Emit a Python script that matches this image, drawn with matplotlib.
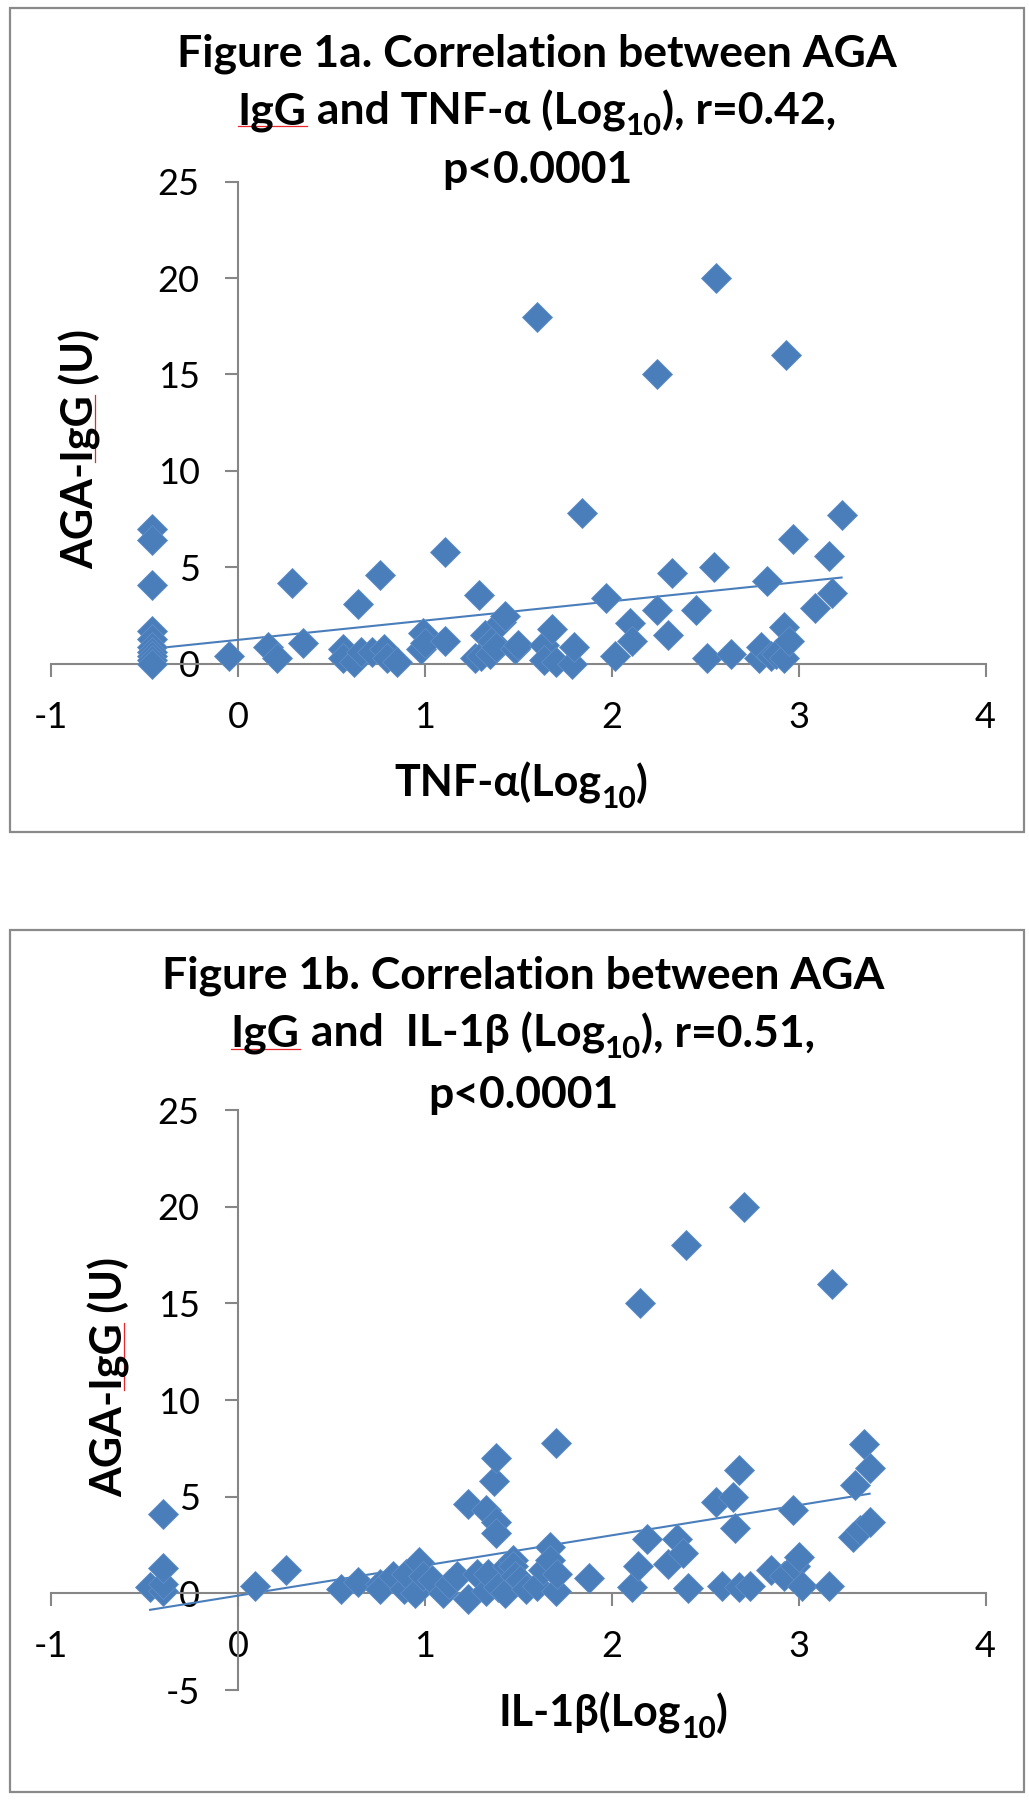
import numpy as np
import matplotlib
matplotlib.use("Agg")
import matplotlib.pyplot as plt
from matplotlib.patches import Rectangle
from matplotlib.lines import Line2D

plt.rcParams['font.family'] = ['Lato', 'DejaVu Sans']
plt.rcParams['axes.unicode_minus'] = False

W, H = 1029, 1800
BLUE = '#4A7EBB'
GREY = '#868686'

# ---- data ----
# Figure 1a: TNF-alpha (log10) vs AGA-IgG
tnf_x = [-0.46, -0.46, -0.46, -0.46, -0.46, -0.46, -0.46, -0.46, -0.46, -0.46,
         -0.05, 0.16, 0.21, 0.29, 0.35,
         0.56, 0.56, 0.62, 0.64, 0.66, 0.72, 0.76, 0.78, 0.80, 0.85,
         0.98, 0.99, 1.00, 1.11, 1.11,
         1.27, 1.29, 1.30, 1.32, 1.35, 1.36, 1.38, 1.41, 1.43, 1.48, 1.50,
         1.60, 1.64, 1.64, 1.68, 1.70, 1.79, 1.80, 1.84,
         1.97, 2.02, 2.10, 2.11,
         2.24, 2.24, 2.30, 2.32, 2.45,
         2.51, 2.55, 2.56, 2.64,
         2.79, 2.80, 2.83, 2.85, 2.88, 2.92, 2.92, 2.93, 2.95, 2.97,
         3.09, 3.16, 3.18, 3.23]
tnf_y = [7.0, 6.4, 4.1, 1.7, 1.3, 0.9, 0.6, 0.4, 0.2, 0.0,
         0.4, 0.9, 0.3, 4.2, 1.1,
         0.8, 0.3, 0.1, 3.1, 0.6, 0.6, 4.6, 0.8, 0.3, 0.1,
         0.8, 1.6, 1.1, 1.2, 5.8,
         0.3, 3.6, 0.4, 1.5, 0.5, 1.2, 0.9, 2.2, 2.5, 0.8, 1.0,
         18.0, 1.0, 0.2, 1.8, 0.1, 0.0, 0.9, 7.8,
         3.4, 0.4, 2.1, 1.2,
         15.0, 2.8, 1.5, 4.7, 2.8,
         0.3, 5.0, 20.0, 0.5,
         0.3, 0.9, 4.3, 0.4, 0.5, 1.9, 0.3, 16.0, 1.2, 6.5,
         2.9, 5.6, 3.7, 7.7]
tnf_trend = (1.0, 1.25)      # slope, intercept

# Figure 1b: IL-1beta (log10) vs AGA-IgG
il1b_x = [-0.47, -0.40, -0.40, -0.40, -0.40,
          0.09, 0.26,
          0.55, 0.64, 0.76, 0.76, 0.83, 0.89, 0.90, 0.95, 0.97, 0.99, 1.04,
          1.10, 1.13, 1.17, 1.23, 1.23, 1.28, 1.33, 1.33, 1.34, 1.37, 1.38, 1.38, 1.38, 1.39,
          1.43, 1.44, 1.47, 1.47, 1.48, 1.51, 1.54, 1.60, 1.63, 1.67, 1.67, 1.70, 1.71, 1.70,
          1.88,
          2.11, 2.14, 2.15, 2.19, 2.30, 2.35, 2.38, 2.40, 2.41,
          2.56, 2.59, 2.65, 2.66, 2.68, 2.68, 2.71, 2.74,
          2.85, 2.92, 2.97, 2.98, 3.00, 3.02, 3.16, 3.18,
          3.29, 3.30, 3.33, 3.35, 3.38, 3.38]
il1b_y = [0.35, 0.1, 0.5, 1.3, 4.1,
          0.4, 1.2,
          0.2, 0.6, 0.5, 0.2, 0.9, 0.2, 1.0, 0.0, 1.6, 0.9, 0.7,
          0.0, 0.5, 0.9, -0.3, 4.6, 1.0, 0.1, 4.3, 1.0, 5.8, 7.0, 3.7, 3.1, 0.35,
          0.0, 1.4, 1.7, 1.4, 0.9, 0.7, 0.2, 0.4, 1.2, 2.4, 1.7, 0.1, 1.0, 7.8,
          0.8,
          0.35, 1.4, 15.0, 2.8, 1.5, 2.8, 2.1, 18.0, 0.3,
          4.7, 0.4, 5.0, 3.4, 6.4, 0.35, 20.0, 0.4,
          1.2, 0.9, 4.3, 1.4, 1.9, 0.4, 0.4, 16.0,
          2.9, 5.6, 3.3, 7.7, 6.5, 3.7]
il1b_trend = (1.56, -0.12)   # slope, intercept

x_ticks = [-1, 0, 1, 2, 3, 4]
y_ticks_a = [0, 5, 10, 15, 20, 25]
y_ticks_b = [-5, 0, 5, 10, 15, 20, 25]

fig = plt.figure(figsize=(W / 100, H / 100), dpi=100)
renderer = fig.canvas.get_renderer()


def fx(px):
    return px / W


def fy(py):
    return 1 - py / H


def text_width(s, size, weight='bold'):
    t = fig.text(0, 0, s, fontsize=size, fontweight=weight)
    w = t.get_window_extent(renderer).width
    t.remove()
    return w


def rich_line(parts, xc, yb, size):
    # parts: (text, is_subscript, red_underline)
    arts = []
    for s, sub, und in parts:
        t = fig.text(0, 0, s, fontsize=size * 0.7 if sub else size,
                     fontweight='bold', ha='left', va='baseline')
        arts.append((t, sub, und))
    widths = [a[0].get_window_extent(renderer).width for a in arts]
    x = xc - sum(widths) / 2
    drop = 0.25 * size * 100 / 72
    for (t, sub, und), w in zip(arts, widths):
        y = yb + (drop if sub else 0)
        t.set_position((fx(x), fy(y)))
        if und:
            fig.add_artist(Line2D([fx(x), fx(x + w)], [fy(yb + 2), fy(yb + 2)],
                                  color='#E8262B', lw=0.9))
        x += w


def y_label(xc, yc, size):
    fig.text(fx(xc), fy(yc), 'AGA-IgG (U)', fontsize=size, fontweight='bold',
             rotation=90, ha='center', va='center')
    total = text_width('AGA-IgG (U)', size)
    start = yc + total / 2
    y0 = start - text_width('AGA-', size)
    y1 = start - text_width('AGA-IgG', size)
    fig.add_artist(Line2D([fx(xc + 15), fx(xc + 15)], [fy(y0), fy(y1)],
                          color='#E8262B', lw=0.9))


def make_axes(top, bottom, ymin, ymax, yticks):
    ax = fig.add_axes([fx(51), fy(bottom), fx(985.5) - fx(51), (bottom - top) / H])
    ax.set_xlim(-1, 4)
    ax.set_ylim(ymin, ymax)
    ax.patch.set_visible(False)
    for s in ['top', 'right']:
        ax.spines[s].set_visible(False)
    ax.spines['left'].set_position(('data', 0))
    ax.spines['bottom'].set_position(('data', 0))
    for s in ['left', 'bottom']:
        ax.spines[s].set_color(GREY)
        ax.spines[s].set_linewidth(1.5)
    ax.set_xticks(x_ticks, [str(t) for t in x_ticks])
    ax.set_yticks(yticks, [str(t) for t in yticks])
    ax.tick_params(axis='both', direction='out', length=9.5, width=1.5,
                   color=GREY, labelsize=26)
    ax.tick_params(axis='x', pad=17)
    ax.tick_params(axis='y', pad=18)
    return ax


def draw_panel(ax, xs, ys, trend):
    ax.plot(xs, ys, linestyle='none', marker='D', ms=15, mfc=BLUE,
            mec='#5d8ec8', mew=0.6, clip_on=False, zorder=3)
    slope, icpt = trend
    tx = np.array([min(xs), max(xs)])
    ax.plot(tx, slope * tx + icpt, color=BLUE, lw=1.5, zorder=2.6)


# panel borders
for top, bot in [(8, 832), (930, 1792)]:
    fig.add_artist(Rectangle((fx(10), fy(bot)), fx(1024) - fx(10), (bot - top) / H,
                             transform=fig.transFigure, fill=False,
                             ec='#8a8a8a', lw=1.6))

TS = 32   # title size
LS = 31   # axis label size

# ---- Figure 1a ----
ax1 = make_axes(181.5, 664, 0, 25, y_ticks_a)
draw_panel(ax1, tnf_x, tnf_y, tnf_trend)
rich_line([('Figure 1a. Correlation between AGA', False, False)], 537, 66, TS)
rich_line([('IgG', False, True), (' and TNF-α (Log', False, False), ('10', True, False),
           ('), r=0.42,', False, False)], 537, 124, TS)
rich_line([('p<0.0001', False, False)], 537, 183, TS)
rich_line([('TNF-α(Log', False, False), ('10', True, False), (')', False, False)], 521, 797, LS)
y_label(80, 449, LS)

# ---- Figure 1b ----
ax2 = make_axes(1110, 1690, -5, 25, y_ticks_b)
draw_panel(ax2, il1b_x, il1b_y, il1b_trend)
rich_line([('Figure 1b. Correlation between AGA', False, False)], 523, 988, TS)
rich_line([('IgG', False, True), (' and  IL-1β (Log', False, False), ('10', True, False),
           ('), r=0.51,', False, False)], 523, 1047, TS)
rich_line([('p<0.0001', False, False)], 523, 1108, TS)
rich_line([('IL-1β(Log', False, False), ('10', True, False), (')', False, False)], 613, 1727, LS)
y_label(109, 1377, LS)

fig.savefig('out.png', dpi=100)
